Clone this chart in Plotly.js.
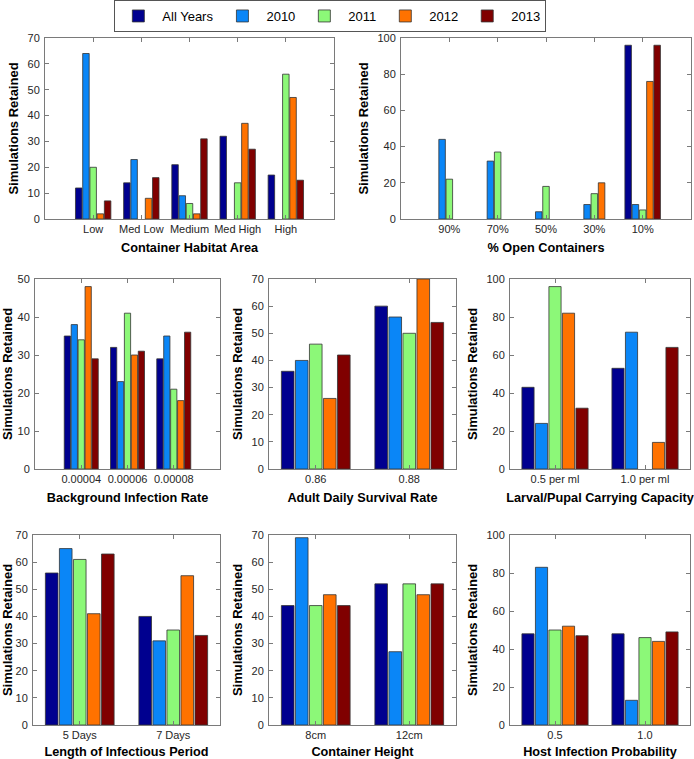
<!DOCTYPE html>
<html>
<head>
<meta charset="utf-8">
<script src="https://cdn.plot.ly/plotly-3.0.1.min.js"></script>
<style>body{margin:0;background:#fff}#chart{width:694px;height:759px}</style>
</head>
<body>
<div id="chart"></div>
<script>
const SERIES = ['All Years', '2010', '2011', '2012', '2013'];
const COLORS = ['#00008f', '#0a86f7', '#8cf878', '#ff7200', '#800000'];
const YTITLE = 'Simulations Retained';

// Container Habitat Area
const habitatCats = ['Low', 'Med Low', 'Medium', 'Med High', 'High'];
const habitatAll  = [12, 14, 21, 32, 17];
const habitat2010 = [64, 23, 9, 0, 0];
const habitat2011 = [20, 0, 6, 14, 56];
const habitat2012 = [2, 8, 2, 37, 47];
const habitat2013 = [7, 16, 31, 27, 15];

// % Open Containers
const openCats = ['90%', '70%', '50%', '30%', '10%'];
const openAll  = [0, 0, 0, 0, 96];
const open2010 = [44, 32, 4, 8, 8];
const open2011 = [22, 37, 18, 14, 5];
const open2012 = [0, 0, 0, 20, 76];
const open2013 = [0, 0, 0, 0, 96];

// Background Infection Rate
const bgCats = ['0.00004', '0.00006', '0.00008'];
const bgAll  = [35, 32, 29];
const bg2010 = [38, 23, 35];
const bg2011 = [34, 41, 21];
const bg2012 = [48, 30, 18];
const bg2013 = [29, 31, 36];

// Adult Daily Survival Rate
const survCats = ['0.86', '0.88'];
const survAll  = [36, 60];
const surv2010 = [40, 56];
const surv2011 = [46, 50];
const surv2012 = [26, 70];
const surv2013 = [42, 54];

// Larval/Pupal Carrying Capacity
const capCats = ['0.5 per ml', '1.0 per ml'];
const capAll  = [43, 53];
const cap2010 = [24, 72];
const cap2011 = [96, 0];
const cap2012 = [82, 14];
const cap2013 = [32, 64];

// Length of Infectious Period
const infCats = ['5 Days', '7 Days'];
const infAll  = [56, 40];
const inf2010 = [65, 31];
const inf2011 = [61, 35];
const inf2012 = [41, 55];
const inf2013 = [63, 33];

// Container Height
const heightCats = ['8cm', '12cm'];
const heightAll  = [44, 52];
const height2010 = [69, 27];
const height2011 = [44, 52];
const height2012 = [48, 48];
const height2013 = [44, 52];

// Host Infection Probability
const hostCats = ['0.5', '1.0'];
const hostAll  = [48, 48];
const host2010 = [83, 13];
const host2011 = [50, 46];
const host2012 = [52, 44];
const host2013 = [47, 49];

// panel boxes in pixels: [left, right, top, bottom]
const W = 694, H = 759;
const panels = [
    {cats: habitatCats, vals: [habitatAll, habitat2010, habitat2011, habitat2012, habitat2013], title: 'Container Habitat Area', ymax: 70, dtick: 10, box: [45, 334, 38, 219]},
    {cats: openCats, vals: [openAll, open2010, open2011, open2012, open2013], title: '% Open Containers', ymax: 100, dtick: 20, box: [401, 691, 38, 219]},
    {cats: bgCats, vals: [bgAll, bg2010, bg2011, bg2012, bg2013], title: 'Background Infection Rate', ymax: 50, dtick: 10, box: [35, 220, 279, 469]},
    {cats: survCats, vals: [survAll, surv2010, surv2011, surv2012, surv2013], title: 'Adult Daily Survival Rate', ymax: 70, dtick: 10, box: [269, 456, 279, 469]},
    {cats: capCats, vals: [capAll, cap2010, cap2011, cap2012, cap2013], title: 'Larval/Pupal Carrying Capacity', ymax: 100, dtick: 20, box: [510, 690, 279, 469]},
    {cats: infCats, vals: [infAll, inf2010, inf2011, inf2012, inf2013], title: 'Length of Infectious Period', ymax: 70, dtick: 10, box: [33, 220, 535, 725]},
    {cats: heightCats, vals: [heightAll, height2010, height2011, height2012, height2013], title: 'Container Height', ymax: 70, dtick: 10, box: [269, 456, 535, 725]},
    {cats: hostCats, vals: [hostAll, host2010, host2011, host2012, host2013], title: 'Host Infection Probability', ymax: 100, dtick: 20, box: [510, 690, 535, 725]}
];

const axisBase = {
    showline: true, linecolor: '#7a7a7a', linewidth: 1, mirror: 'ticks',
    ticks: 'inside', ticklen: 4, tickcolor: '#7a7a7a',
    showgrid: false, zeroline: false, fixedrange: true,
    tickfont: {size: 11, color: '#262626'}
};

let data = [];
let layout = {
    width: W, height: H,
    margin: {l: 0, r: 0, t: 0, b: 0},
    paper_bgcolor: '#fff', plot_bgcolor: '#fff',
    font: {family: 'Liberation Sans, Arial, sans-serif', color: '#262626'},
    barmode: 'group', bargap: 0.25, bargroupgap: 0.1,
    showlegend: true,
    legend: {
        orientation: 'h', x: 0.476, xanchor: 'center', y: 1, yanchor: 'top',
        bgcolor: '#fff', bordercolor: '#555', borderwidth: 1,
        itemwidth: 38,
        font: {size: 13, color: '#000'}
    }
};

panels.forEach((p, i) => {
    const n = i === 0 ? '' : String(i + 1);
    p.vals.forEach((v, s) => {
        data.push({
            type: 'bar', x: p.cats, y: v, name: SERIES[s],
            xaxis: 'x' + n, yaxis: 'y' + n,
            // empty bars get no outline, like the original
            marker: {color: COLORS[s], line: {color: '#333', width: v.map(d => d ? 0.8 : 0)}},
            showlegend: i === 0, legendgroup: SERIES[s],
            hoverinfo: 'x+y+name'
        });
    });
    const [l, r, t, b] = p.box;
    layout['xaxis' + n] = Object.assign({}, axisBase, {
        anchor: 'y' + n, type: 'category',
        domain: [l / W, r / W],
        range: p.cats.length === 2 ? [-0.5, 1.5] : [-1, p.cats.length],
        title: {text: p.title, font: {size: 12.7, weight: 'bold', color: '#000'}, standoff: 8}
    });
    layout['yaxis' + n] = Object.assign({}, axisBase, {
        anchor: 'x' + n,
        domain: [1 - b / H, 1 - t / H],
        range: [0, p.ymax], dtick: p.dtick, tick0: 0,
        ticklabelstandoff: 2,
        title: {text: YTITLE, font: {size: 13, weight: 'bold', color: '#000'}, standoff: 5}
    });
});

Plotly.newPlot('chart', data, layout, {displayModeBar: false, staticPlot: true});
</script>
</body>
</html>
